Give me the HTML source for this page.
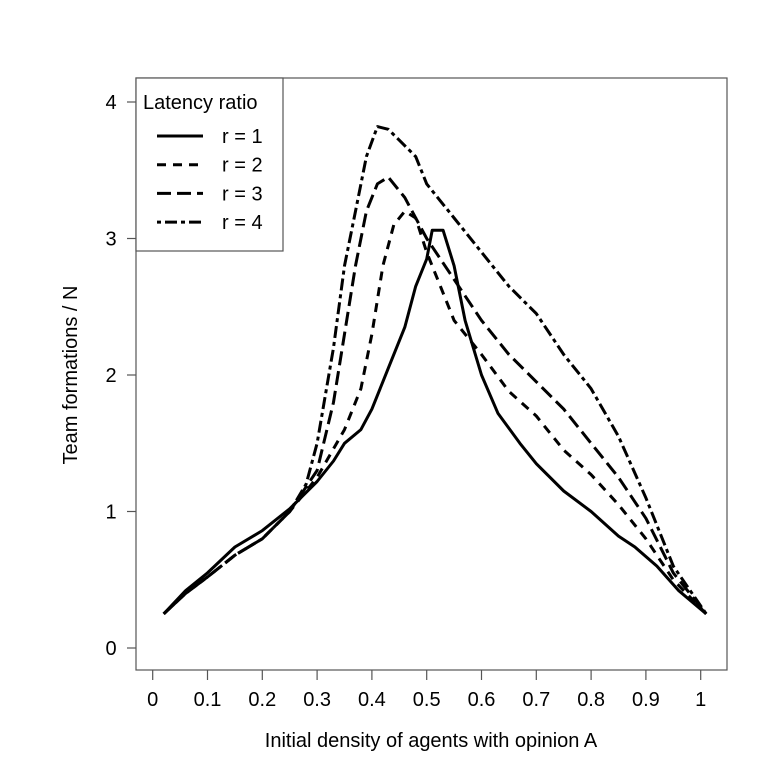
<!DOCTYPE html>
<html><head><meta charset="utf-8"><style>
body{margin:0;background:#fff}
svg text{font-family:"Liberation Sans",sans-serif;fill:#000}
</style></head><body>
<svg width="768" height="768" viewBox="0 0 768 768">
<rect x="136" y="78" width="591" height="592" fill="none" stroke="#555" stroke-width="1.2"/>
<g id="axes"></g>
<g id="series"></g>
<text x="431" y="747" font-size="20" text-anchor="middle">Initial density of agents with opinion A</text>
<text transform="translate(77,375) rotate(-90)" font-size="20" text-anchor="middle">Team formations / N</text>
<g>
<rect x="136" y="78" width="147" height="173" fill="#fff" stroke="#555" stroke-width="1.2"/>
<text x="143" y="109" font-size="20">Latency ratio</text>
<g id="legend-entries"></g>
</g>
</svg>
<script>
const ticksX=[0,0.1,0.2,0.3,0.4,0.5,0.6,0.7,0.8,0.9,1];
const tickLabelsX=["0","0.1","0.2","0.3","0.4","0.5","0.6","0.7","0.8","0.9","1"];
const ticksY=[0,1,2,3,4];
const seriesNames=["r = 1","r = 2","r = 3","r = 4"];
const dashes=["none","9,7","14,6","4,4,12,4"];
const xs1=[0.02,0.06,0.1,0.15,0.2,0.25,0.3,0.33,0.35,0.38,0.4,0.43,0.46,0.48,0.5,0.51,0.53,0.55,0.57,0.6,0.63,0.67,0.7,0.75,0.8,0.85,0.88,0.92,0.96,1.01];
const ys1=[0.25,0.42,0.55,0.74,0.86,1.02,1.22,1.37,1.5,1.6,1.75,2.05,2.35,2.65,2.85,3.06,3.06,2.8,2.4,2.0,1.72,1.5,1.35,1.15,1.0,0.82,0.74,0.6,0.42,0.25];
const xs2=[0.02,0.06,0.1,0.15,0.2,0.25,0.3,0.35,0.38,0.4,0.42,0.44,0.46,0.48,0.5,0.55,0.6,0.65,0.7,0.75,0.8,0.85,0.9,0.95,1.01];
const ys2=[0.25,0.4,0.52,0.68,0.8,1.0,1.25,1.6,1.9,2.3,2.8,3.1,3.2,3.15,2.9,2.4,2.15,1.88,1.7,1.45,1.27,1.05,0.8,0.5,0.25];
const xs3=[0.02,0.06,0.1,0.15,0.2,0.25,0.3,0.33,0.35,0.37,0.39,0.41,0.43,0.46,0.5,0.55,0.6,0.65,0.7,0.75,0.8,0.85,0.9,0.95,1.01];
const ys3=[0.25,0.4,0.52,0.68,0.8,1.0,1.3,1.8,2.3,2.8,3.2,3.4,3.45,3.3,3.0,2.7,2.4,2.15,1.95,1.75,1.5,1.25,0.95,0.55,0.25];
const xs4=[0.02,0.06,0.1,0.15,0.2,0.25,0.28,0.3,0.33,0.35,0.37,0.39,0.41,0.43,0.45,0.48,0.5,0.55,0.6,0.65,0.7,0.75,0.8,0.85,0.9,0.95,1.01];
const ys4=[0.25,0.4,0.52,0.68,0.8,1.0,1.2,1.5,2.2,2.8,3.2,3.6,3.82,3.8,3.72,3.6,3.4,3.15,2.9,2.65,2.45,2.15,1.9,1.55,1.1,0.6,0.25];
const NS="http://www.w3.org/2000/svg";
const xPos=v=>152.7+548*v;
const yPos=v=>648-136.5*v;
const axes=document.getElementById('axes');
function mk(tag,attrs,parent){const e=document.createElementNS(NS,tag);for(const k in attrs)e.setAttribute(k,attrs[k]);parent.appendChild(e);return e;}
ticksX.forEach((t,i)=>{
 const l=mk('line',{x1:xPos(t),x2:xPos(t),y1:670,y2:680,stroke:'#555','stroke-width':1.2},axes);
 
 
 const tx=mk('text',{x:xPos(t),y:706,'font-size':20,'text-anchor':'middle'},axes);
 tx.textContent=tickLabelsX[i];
 
 
});
ticksY.forEach(t=>{
 const l=mk('line',{x1:127,x2:136,y1:yPos(t),y2:yPos(t),stroke:'#555','stroke-width':1.2},axes);
 
 
 const tx=mk('text',{x:111,y:yPos(t)+7,'font-size':20,'text-anchor':'middle'},axes);
 tx.textContent=String(t);
 
 
});
const sg=document.getElementById('series');
[[xs1,ys1],[xs2,ys2],[xs3,ys3],[xs4,ys4]].forEach((s,i)=>{
 const d=s[0].map((x,j)=>(j?'L':'M')+xPos(x).toFixed(1)+','+yPos(s[1][j]).toFixed(1)).join('');
 const p=mk('path',{d:d,fill:'none',stroke:'#000','stroke-width':3,'stroke-dasharray':dashes[i],'stroke-linejoin':'round'},sg);
 
 
});
const lg=document.getElementById('legend-entries');
seriesNames.forEach((n,i)=>{
 const y=136+28.7*i;
 const l=mk('line',{x1:157,x2:203,y1:y,y2:y,stroke:'#000','stroke-width':3,'stroke-dasharray':dashes[i]},lg);
 
 
 const t=mk('text',{x:222,y:y+7,'font-size':20},lg);
 t.textContent=n;
 
 
});
</script>
</body></html>
